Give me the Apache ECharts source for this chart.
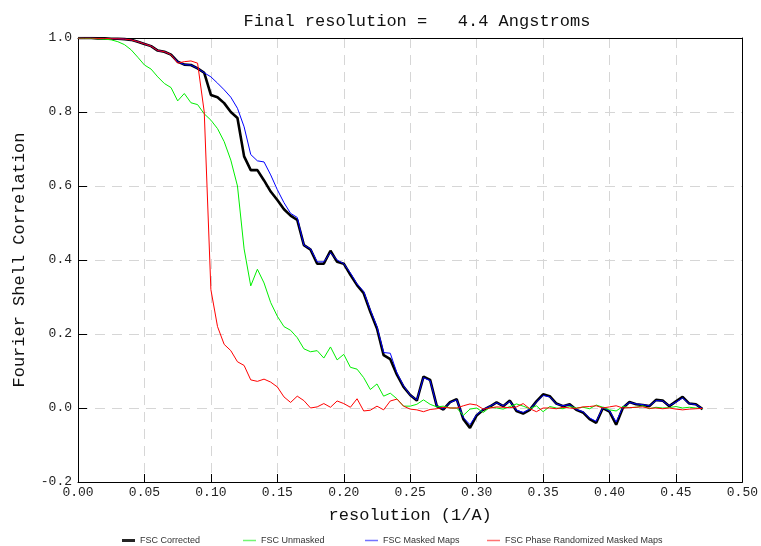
<!DOCTYPE html>
<html>
<head>
<meta charset="utf-8">
<script src="https://cdn.jsdelivr.net/npm/echarts@6.0.0/dist/echarts.min.js"></script>
<style>
  html, body { margin: 0; padding: 0; background: #fff; }
  #chart { width: 761px; height: 546px; }
</style>
</head>
<body>
<div id="chart"></div>
<script>
// spatial frequency (1/A)
const resolution = [
  0.000, 0.005, 0.010, 0.015, 0.020, 0.025, 0.030, 0.035, 0.040, 0.045,
  0.050, 0.055, 0.060, 0.065, 0.070, 0.075, 0.080, 0.085, 0.090, 0.095,
  0.100, 0.105, 0.110, 0.115, 0.120, 0.125, 0.130, 0.135, 0.140, 0.145,
  0.150, 0.155, 0.160, 0.165, 0.170, 0.175, 0.180, 0.185, 0.190, 0.195,
  0.200, 0.205, 0.210, 0.215, 0.220, 0.225, 0.230, 0.235, 0.240, 0.245,
  0.250, 0.255, 0.260, 0.265, 0.270, 0.275, 0.280, 0.285, 0.290, 0.295,
  0.300, 0.305, 0.310, 0.315, 0.320, 0.325, 0.330, 0.335, 0.340, 0.345,
  0.350, 0.355, 0.360, 0.365, 0.370, 0.375, 0.380, 0.385, 0.390, 0.395,
  0.400, 0.405, 0.410, 0.415, 0.420, 0.425, 0.430, 0.435, 0.440, 0.445,
  0.450, 0.455, 0.460, 0.465, 0.470
];

const fscCorrected = [
  1.000, 1.000, 1.000, 0.999, 0.999, 0.998, 0.998, 0.997, 0.995, 0.990,
  0.984, 0.978, 0.966, 0.963, 0.955, 0.936, 0.928, 0.927, 0.918, 0.906,
  0.846, 0.840, 0.824, 0.800, 0.784, 0.680, 0.643, 0.643, 0.615, 0.585,
  0.562, 0.537, 0.520, 0.508, 0.440, 0.428, 0.390, 0.390, 0.425, 0.395,
  0.390, 0.360, 0.332, 0.310, 0.260, 0.215, 0.143, 0.132, 0.090, 0.057,
  0.035, 0.020, 0.085, 0.076, 0.005, -0.004, 0.016, 0.024, -0.030, -0.054,
  -0.020, -0.005, 0.004, 0.015, 0.005, 0.020, -0.008, -0.015, -0.005, 0.018,
  0.037, 0.032, 0.012, 0.005, 0.010, -0.005, -0.012, -0.030, -0.040, 0.000,
  -0.010, -0.045, 0.000, 0.016, 0.010, 0.008, 0.005, 0.022, 0.020, 0.005,
  0.018, 0.030, 0.012, 0.010, -0.003
];

const fscUnmasked = [
  1.000, 0.999, 0.999, 0.998, 0.997, 0.995, 0.990, 0.982, 0.968, 0.948,
  0.927, 0.916, 0.895, 0.877, 0.866, 0.830, 0.850, 0.825, 0.820, 0.795,
  0.778, 0.755, 0.720, 0.670, 0.600, 0.430, 0.330, 0.375, 0.338, 0.285,
  0.248, 0.220, 0.210, 0.190, 0.160, 0.152, 0.155, 0.135, 0.165, 0.130,
  0.145, 0.110, 0.105, 0.082, 0.050, 0.065, 0.032, 0.040, 0.025, 0.005,
  0.005, 0.010, 0.022, 0.010, 0.003, 0.005, 0.000, 0.000, -0.020, -0.003,
  0.000, -0.012, 0.002, 0.000, -0.003, 0.004, 0.011, 0.005, -0.002, 0.006,
  -0.010, 0.004, 0.000, -0.002, 0.004, 0.000, 0.002, -0.002, 0.008, 0.002,
  -0.005, -0.008, 0.004, 0.001, 0.002, 0.006, -0.002, 0.002, 0.000, 0.001,
  0.004, 0.000, 0.002, 0.000, -0.002
];

const fscMasked = [
  1.000, 1.000, 1.000, 0.999, 0.999, 0.998, 0.998, 0.997, 0.995, 0.990,
  0.984, 0.978, 0.966, 0.963, 0.955, 0.936, 0.928, 0.927, 0.918, 0.906,
  0.895, 0.878, 0.860, 0.840, 0.810, 0.760, 0.685, 0.668, 0.665, 0.630,
  0.590, 0.555, 0.526, 0.515, 0.440, 0.430, 0.395, 0.395, 0.420, 0.400,
  0.390, 0.365, 0.335, 0.315, 0.265, 0.220, 0.150, 0.148, 0.095, 0.060,
  0.035, 0.022, 0.082, 0.074, 0.006, -0.003, 0.015, 0.022, -0.026, -0.045,
  -0.018, -0.004, 0.005, 0.014, 0.006, 0.018, -0.006, -0.012, -0.003, 0.016,
  0.034, 0.030, 0.011, 0.006, 0.009, -0.004, -0.010, -0.027, -0.036, 0.001,
  -0.008, -0.038, 0.002, 0.015, 0.011, 0.009, 0.006, 0.020, 0.019, 0.006,
  0.016, 0.027, 0.012, 0.009, -0.002
];

const fscPhaseRandomized = [
  1.000, 1.000, 1.000, 0.999, 0.999, 0.998, 0.998, 0.997, 0.995, 0.990,
  0.984, 0.978, 0.966, 0.963, 0.955, 0.932, 0.936, 0.938, 0.932, 0.800,
  0.320, 0.220, 0.172, 0.155, 0.125, 0.115, 0.076, 0.072, 0.078, 0.070,
  0.057, 0.030, 0.015, 0.032, 0.020, 0.000, 0.003, 0.012, 0.002, 0.019,
  0.012, 0.002, 0.025, -0.008, -0.006, 0.005, -0.005, 0.019, 0.024, 0.005,
  -0.003, -0.005, -0.010, -0.004, -0.002, 0.002, 0.000, 0.000, 0.006, 0.011,
  0.008, -0.003, 0.000, 0.003, 0.002, 0.001, 0.003, 0.012, -0.002, -0.010,
  0.000, 0.000, -0.002, 0.002, 0.000, -0.001, 0.003, 0.004, 0.006, 0.000,
  0.003, 0.006, 0.000, 0.001, 0.002, 0.003, -0.001, 0.000, -0.002, 0.000,
  -0.003, -0.005, -0.003, -0.002, -0.001
];

const xTicks = { min: 0, max: 0.5, step: 0.05 };
const yTicks = { min: -0.2, max: 1.0, step: 0.2 };

function pairs (ys) {
  return ys.map((y, i) => [resolution[i], y]);
}

const mono = '"Liberation Mono", "DejaVu Sans Mono", monospace';
const gridLine = { show: true, lineStyle: { color: '#d6d6d6', type: [10, 7], width: 1 } };
const frame = {
  axisLine: { show: true, onZero: false, lineStyle: { color: '#000', width: 1 } },
  axisTick: { show: false },
  axisLabel: { show: false },
  splitLine: { show: false }
};

// one legend per entry so they sit at even spacing like the original
const legendNames = ['FSC Corrected', 'FSC Unmasked', 'FSC Masked Maps', 'FSC Phase Randomized Masked Maps'];
const legendLeft = [122, 243, 365, 487];
const legends = legendNames.map((name, i) => ({
  left: legendLeft[i],
  top: 536,
  padding: 0,
  icon: 'rect',
  itemWidth: 13,
  itemHeight: i === 0 ? 3 : 1.5,
  itemStyle: { opacity: i === 0 ? 0.85 : 0.55 },
  data: [name],
  textStyle: {
    fontFamily: '"Liberation Sans Narrow", "Liberation Sans", sans-serif',
    fontSize: 9, color: '#333'
  }
}));

const option = {
  animation: false,
  backgroundColor: '#fff',
  title: {
    text: 'Final resolution =   4.4 Angstroms',
    left: 412,
    textAlign: 'center',
    top: 8,
    textStyle: { fontFamily: mono, fontSize: 17, fontWeight: 'normal', color: '#111' }
  },
  grid: { left: 78, right: 13, top: 38, bottom: 64 },
  legend: legends,
  xAxis: [
    {
      type: 'value',
      min: xTicks.min, max: xTicks.max, interval: xTicks.step,
      name: 'resolution (1/A)',
      nameLocation: 'middle',
      nameGap: 25,
      nameTextStyle: { fontFamily: mono, fontSize: 17, color: '#111' },
      axisLine: { show: true, onZero: false, lineStyle: { color: '#000', width: 1 } },
      axisTick: { show: true, inside: true, length: 8, lineStyle: { color: '#000' } },
      axisLabel: {
        fontFamily: mono, fontSize: 13, color: '#222', margin: 4,
        formatter: v => v.toFixed(2)
      },
      splitLine: gridLine
    },
    Object.assign({ type: 'value', position: 'top', min: xTicks.min, max: xTicks.max }, frame)
  ],
  yAxis: [
    {
      type: 'value',
      min: yTicks.min, max: yTicks.max, interval: yTicks.step,
      name: 'Fourier Shell Correlation',
      nameLocation: 'middle',
      nameRotate: 90,
      nameGap: 50,
      nameTextStyle: { fontFamily: mono, fontSize: 17, color: '#111' },
      axisLine: { show: true, onZero: false, lineStyle: { color: '#000', width: 1 } },
      axisTick: { show: true, inside: true, length: 9, lineStyle: { color: '#000' } },
      axisLabel: {
        fontFamily: mono, fontSize: 13, color: '#222', margin: 6,
        formatter: v => v.toFixed(1)
      },
      splitLine: gridLine
    },
    Object.assign({ type: 'value', position: 'right', min: yTicks.min, max: yTicks.max }, frame)
  ],
  series: [
    {
      name: 'FSC Corrected', type: 'line', symbol: 'none', color: '#000',
      lineStyle: { width: 2.6, color: '#000' },
      data: pairs(fscCorrected)
    },
    {
      name: 'FSC Masked Maps', type: 'line', symbol: 'none', color: '#0000ff',
      lineStyle: { width: 1, color: '#0000ff' },
      data: pairs(fscMasked)
    },
    {
      name: 'FSC Unmasked', type: 'line', symbol: 'none', color: '#00ee00',
      lineStyle: { width: 1, color: '#00ee00' },
      data: pairs(fscUnmasked)
    },
    {
      name: 'FSC Phase Randomized Masked Maps', type: 'line', symbol: 'none', color: '#ff0000',
      lineStyle: { width: 1, color: '#ff0000' },
      data: pairs(fscPhaseRandomized)
    }
  ]
};

const myChart = echarts.init(document.getElementById('chart'));
myChart.setOption(option);
</script>
</body>
</html>
